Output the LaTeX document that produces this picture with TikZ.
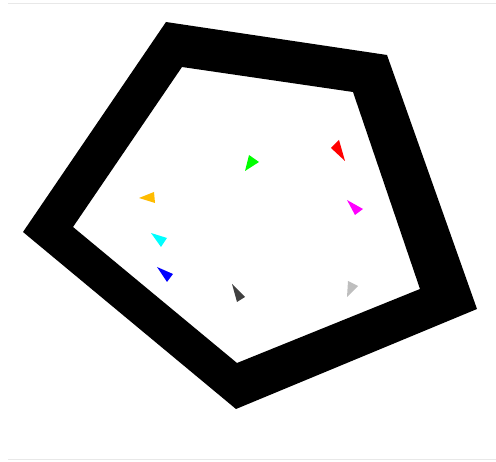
\documentclass[tikz,border=0pt]{standalone}
\usepackage{tikz}
\definecolor{agentgreen}{RGB}{0,255,0}
\definecolor{agentred}{RGB}{255,0,0}
\definecolor{agentmagenta}{RGB}{255,0,255}
\definecolor{agentcyan}{RGB}{0,255,255}
\definecolor{agentblue}{RGB}{0,0,255}
\definecolor{agentorange}{RGB}{255,188,0}
\definecolor{agentdark}{RGB}{64,64,64}
\definecolor{agentlight}{RGB}{190,190,190}
\definecolor{rulegray}{RGB}{232,232,232}
\begin{document}
\begin{tikzpicture}[
    x=1pt, y=-1pt,
    wall/.style={fill=black, even odd rule},
    agent/.style={draw=none},
    rule/.style={draw=rulegray, line width=1pt}
]
\useasboundingbox (0,0) rectangle (496,462);

% Frame lines
\draw [rule] (8,4) -- (496,4);
\draw [rule] (8,460) -- (496,460);

% Arena walls
\fill [wall] (166,22) -- (387,55) -- (477,309) -- (236,409) -- (23,232) -- cycle
    (182,67) -- (353,92) -- (420,289) -- (237,363) -- (73,227) -- cycle;

% Agents
\fill [agent, agentgreen] (249,155) -- (259,162) -- (245,171) -- cycle;
\fill [agent, agentred] (339,140) -- (345,161) -- (331,148) -- cycle;
\fill [agent, agentmagenta] (347,200) -- (363,209) -- (355,215) -- cycle;
\fill [agent, agentorange] (139,198) -- (154,192) -- (155,203) -- cycle;
\fill [agent, agentcyan] (151,233) -- (167,238) -- (161,247) -- cycle;
\fill [agent, agentblue] (157,267) -- (173,274) -- (167,282) -- cycle;
\fill [agent, agentdark] (232,284) -- (245,297) -- (237,302) -- cycle;
\fill [agent, agentlight] (348,281) -- (358,286) -- (347,297) -- cycle;

\end{tikzpicture}
\end{document}
